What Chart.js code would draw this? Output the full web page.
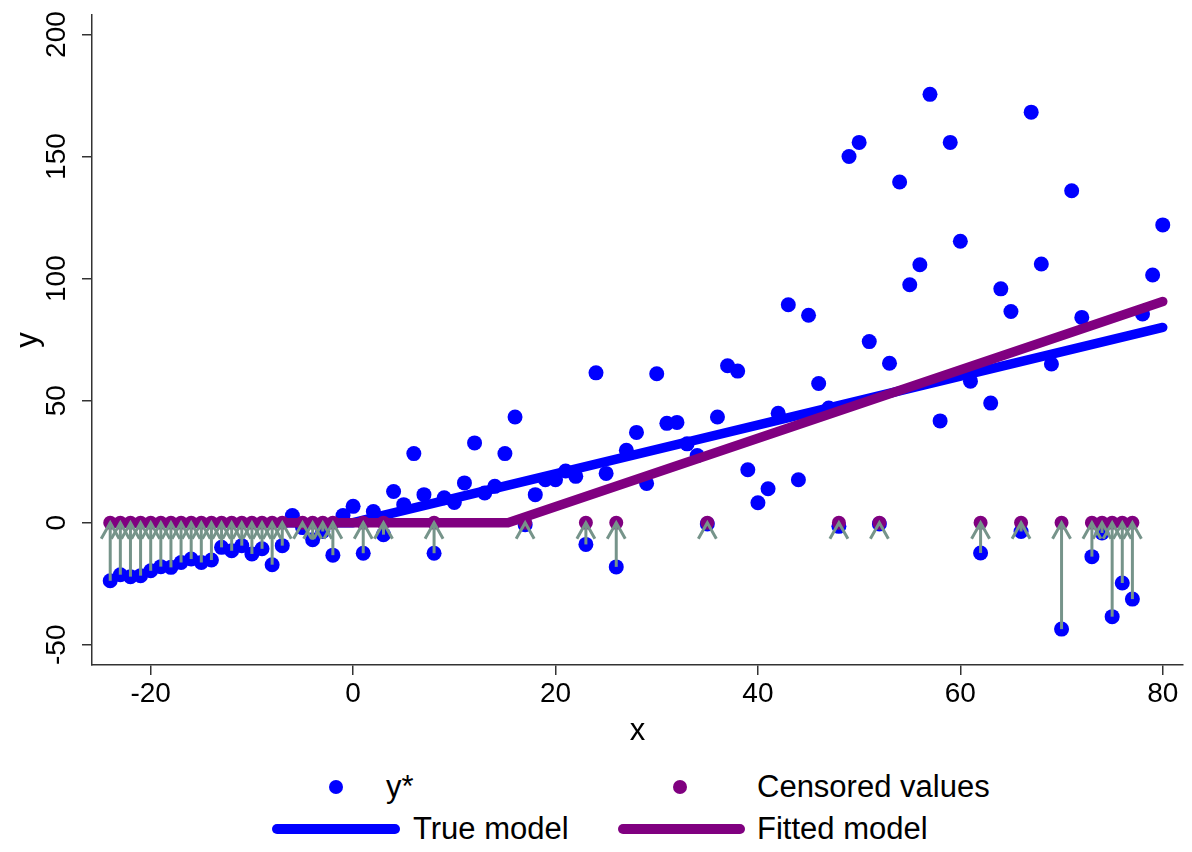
<!DOCTYPE html>
<html>
<head>
<meta charset="utf-8">
<script src="https://cdn.jsdelivr.net/npm/chart.js@4.4.1/dist/chart.umd.min.js"></script>
<style>
  body { margin: 0; background: #fff; }
  #wrap { position: relative; width: 1192px; height: 852px; font-family: "Liberation Sans", Arial, sans-serif; }
  #chart { position: absolute; left: 0; top: 0; }
  .lg { position: absolute; font-size: 31px; line-height: 31px; color: #000; white-space: nowrap; }
  .dot { position: absolute; width: 14px; height: 14px; border-radius: 50%; }
  .bar { position: absolute; height: 10px; border-radius: 5px; }
</style>
</head>
<body>
<div id="wrap">
  <canvas id="chart" width="1192" height="760"></canvas>

  <!-- legend -->
  <div class="dot" style="left:329px; top:780px; background:#0000ff"></div>
  <div class="lg" style="left:386px; top:771px">y*</div>
  <div class="dot" style="left:673px; top:780px; background:#800080"></div>
  <div class="lg" style="left:757px; top:771px">Censored values</div>
  <div class="bar" style="left:272px; top:824px; width:128px; background:#0000ff"></div>
  <div class="lg" style="left:413px; top:813px">True model</div>
  <div class="bar" style="left:618px; top:824px; width:127px; background:#800080"></div>
  <div class="lg" style="left:757px; top:813px">Fitted model</div>
</div>

<script>
// latent values y* for each x
const xVals = [-24, -23, -22, -21, -20, -19, -18, -17, -16, -15, -14, -13, -12, -11, -10, -9, -8, -7, -6, -5,
  -4, -3, -2, -1, 0, 1, 2, 3, 4, 5, 6, 7, 8, 9, 10, 11, 12, 13, 14, 15,
  16, 17, 18, 19, 20, 21, 22, 23, 24, 25, 26, 27, 28, 29, 30, 31, 32, 33, 34, 35,
  36, 37, 38, 39, 40, 41, 42, 43, 44, 45, 46, 47, 48, 49, 50, 51, 52, 53, 54, 55,
  56, 57, 58, 59, 60, 61, 62, 63, 64, 65, 66, 67, 68, 69, 70, 71, 72, 73, 74, 75,
  76, 77, 78, 79, 80];
const yStar = [-23.8, -21.3, -22.1, -21.7, -19.7, -18.0, -18.3, -16.3, -14.9, -16.3, -15.3, -10.1, -11.5, -9.4, -12.8, -10.7, -17.2, -9.4, 2.9, -2.0,
  -7.0, -3.6, -13.3, 2.9, 6.7, -12.5, 4.6, -4.9, 12.8, 7.4, 28.3, 11.5, -12.5, 10.2, 8.3, 16.3, 32.7, 12.2, 14.9, 28.3,
  43.3, -0.8, 11.5, 17.6, 17.6, 21.2, 19.0, -8.9, 61.4, 20.2, -18.1, 29.7, 37.0, 16.1, 61.0, 40.7, 41.1, 32.3, 27.5, -0.5,
  43.3, 64.3, 62.1, 21.7, 8.2, 13.9, 44.8, 89.3, 17.6, 85.0, 57.0, 47.0, -1.5, 150.0, 155.8, 74.2, -0.5, 65.3, 139.6, 97.5,
  105.7, 175.5, 41.7, 155.8, 115.3, 58.0, -12.4, 49.0, 95.8, 86.5, -3.6, 168.2, 106.0, 65.0, -43.6, 136.0, 84.1, -13.9, -4.2, -38.5,
  -24.7, -31.3, 85.5, 101.5, 122.0];

// x positions where the value is censored at 0
const censoredX = [-24, -23, -22, -21, -20, -19, -18, -17, -16, -15, -14, -13, -12, -11, -10, -9, -8, -7,
  -5, -4, -3, -2, 1, 3, 8, 17, 23, 26, 35, 48, 52, 62, 66, 70, 73, 74, 75, 76, 77];

// model lines (vertices)
const trueX = [-24, 0, 80];
const trueY = [0, 0, 80];
const fittedX = [-24, 15.3, 80];
const fittedY = [0, 0, 90.6];

const xTicks = [-20, 0, 20, 40, 60, 80];
const yTicks = [-50, 0, 50, 100, 150, 200];

const FONT = '"Liberation Sans", Arial, sans-serif';
const BLUE = '#0000ff';
const PURPLE = '#800080';
const ARROW = 'rgb(118,148,138)';

const toPts = (xs, ys) => xs.map((x, i) => ({ x: x, y: ys[i] }));

// spikes with arrow heads from y* up to 0
const arrowPlugin = {
  id: 'arrows',
  afterDatasetsDraw(chart) {
    const { ctx, scales: { x, y } } = chart;
    ctx.save();
    ctx.strokeStyle = ARROW;
    ctx.lineWidth = 3;
    censoredX.forEach(cx => {
      const ys = yStar[xVals.indexOf(cx)];
      const px = x.getPixelForValue(cx);
      const p0 = y.getPixelForValue(ys);
      const p1 = y.getPixelForValue(0);
      ctx.beginPath();
      ctx.moveTo(px, p0);
      ctx.lineTo(px, p1);
      ctx.stroke();
      ctx.beginPath();
      ctx.moveTo(px - 9, p1 + 16);
      ctx.lineTo(px, p1);
      ctx.lineTo(px + 9, p1 + 16);
      ctx.stroke();
    });
    ctx.restore();
  }
};

// vertical y tick labels (Stata style)
const yLabelPlugin = {
  id: 'yLabels',
  afterDraw(chart) {
    const { ctx, scales: { y } } = chart;
    ctx.save();
    ctx.font = '28px ' + FONT;
    ctx.fillStyle = '#000';
    ctx.textAlign = 'center';
    ctx.textBaseline = 'middle';
    yTicks.forEach(v => {
      const py = y.getPixelForValue(v);
      ctx.save();
      ctx.translate(57, py);
      ctx.rotate(-Math.PI / 2);
      ctx.fillText(String(v), 0, 0);
      ctx.restore();
    });
    ctx.restore();
  }
};

const ctx = document.getElementById('chart').getContext('2d');
new Chart(ctx, {
  type: 'scatter',
  data: {
    datasets: [
      {
        label: 'Censored values',
        data: censoredX.map(x => ({ x: x, y: 0 })),
        backgroundColor: PURPLE,
        borderWidth: 0,
        pointRadius: 7,
        order: 1
      },
      {
        label: 'Fitted model',
        type: 'line',
        data: toPts(fittedX, fittedY),
        borderColor: PURPLE,
        borderWidth: 9.5,
        borderCapStyle: 'round',
        borderJoinStyle: 'round',
        pointRadius: 0,
        fill: false,
        order: 2
      },
      {
        label: 'True model',
        type: 'line',
        data: toPts(trueX, trueY),
        borderColor: BLUE,
        borderWidth: 9.5,
        borderCapStyle: 'round',
        borderJoinStyle: 'round',
        pointRadius: 0,
        fill: false,
        order: 3
      },
      {
        label: 'y*',
        data: toPts(xVals, yStar),
        backgroundColor: BLUE,
        borderWidth: 0,
        pointRadius: 7.5,
        order: 4
      }
    ]
  },
  options: {
    responsive: false,
    animation: false,
    layout: { padding: { top: 15, right: 9, left: 0, bottom: 0 } },
    plugins: {
      legend: { display: false },
      tooltip: { enabled: false }
    },
    scales: {
      x: {
        type: 'linear',
        min: -25.8,
        max: 82,
        afterBuildTicks: s => { s.ticks = xTicks.map(v => ({ value: v })); },
        afterFit: s => { s.height = 95; },
        grid: { drawOnChartArea: false, drawTicks: true, tickLength: 10, color: '#333', lineWidth: 1.5 },
        border: { display: true, color: '#333', width: 1.5 },
        ticks: { font: { size: 28, family: FONT }, color: '#000', padding: 2, maxRotation: 0, autoSkip: false },
        title: { display: true, text: 'x', font: { size: 31, family: FONT }, color: '#000', padding: { top: 0, bottom: 10 } }
      },
      y: {
        type: 'linear',
        min: -58.3,
        max: 208,
        afterBuildTicks: s => { s.ticks = yTicks.map(v => ({ value: v })); },
        afterFit: s => { s.width = 92; },
        grid: { drawOnChartArea: false, drawTicks: true, tickLength: 10, color: '#333', lineWidth: 1.5 },
        border: { display: true, color: '#333', width: 1.5 },
        ticks: { display: false },
        title: { display: true, text: 'y', font: { size: 31, family: FONT }, color: '#000', padding: { top: 10, bottom: 0 } }
      }
    }
  },
  plugins: [arrowPlugin, yLabelPlugin]
});
</script>
</body>
</html>
